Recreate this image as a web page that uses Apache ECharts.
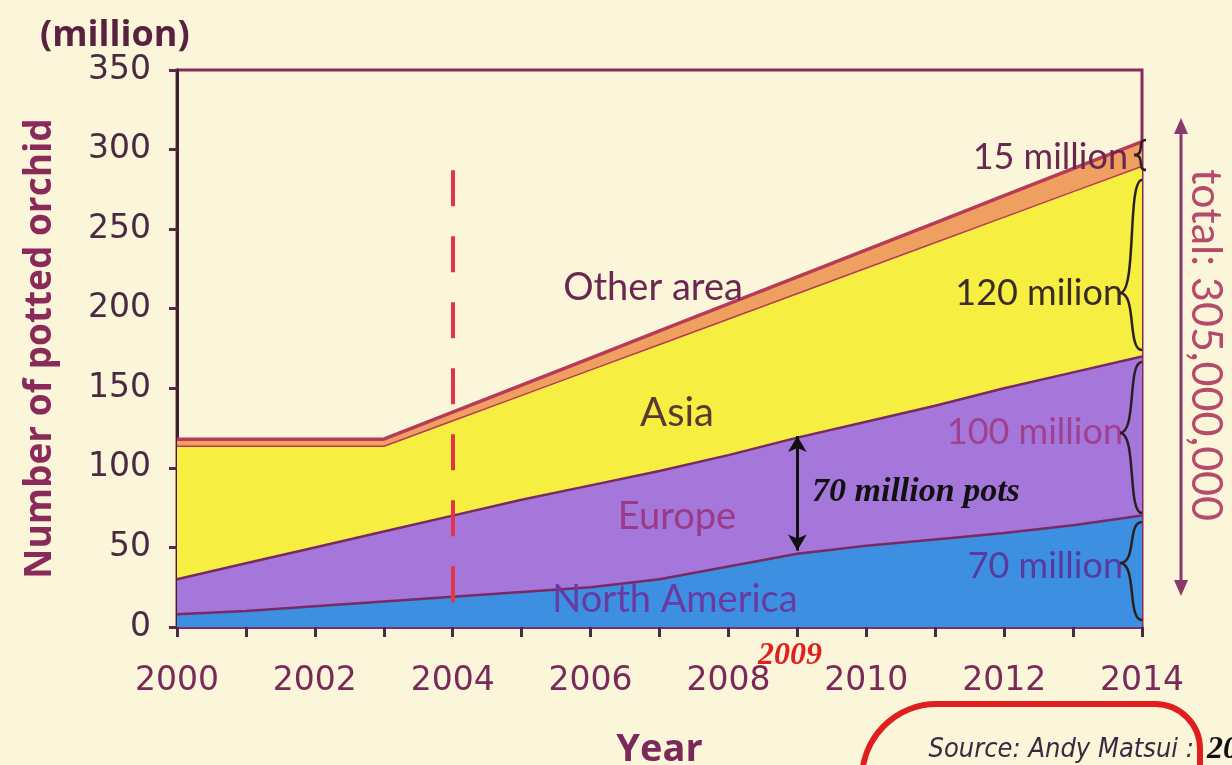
<!DOCTYPE html>
<html>
<head>
<meta charset="utf-8">
<script src="https://cdn.jsdelivr.net/npm/echarts@6/dist/echarts.min.js"></script>
<style>
html, body { margin: 0; padding: 0; background: #fbf5da; }
#chart { width: 1232px; height: 765px; }
</style>
</head>
<body>
<div id="chart"></div>
<script>
// values (million pots)
const years = ['2000', '2001', '2002', '2003', '2004', '2005', '2006', '2007', '2008', '2009', '2010', '2011', '2012', '2013', '2014'];
const northAmerica = [8, 10, 13, 16, 19, 22, 25, 30, 38, 46, 51, 55, 59, 64, 70];
const europe = [22, 30, 37, 44, 51, 58, 64, 68, 70, 73, 78, 84, 91, 96, 100];
const asia = [84, 74, 64, 54, 60, 66, 73, 80, 86, 91, 97, 103, 108, 114, 120];
const otherArea = [4, 4, 4, 4, 5, 6, 7, 8, 9, 10, 11, 12, 13, 14, 15];
const xLabelYears = ['2000', '2002', '2004', '2006', '2008', '2010', '2012', '2014'];
const markYear = '2004';
const arrowYear = '2009';
const arrowRange = [48, 120];

const chart = echarts.init(document.getElementById('chart'));

// curly brace pointing left, drawn as two bezier halves
function brace(x, y1, ym, y2, w) {
  const m = x - w / 2, t = x - w;
  const st = { stroke: '#2a2020', lineWidth: 2.5, fill: 'none' };
  return [
    { type: 'bezierCurve', silent: true, z: 100, shape: { x1: x, y1: y1, cpx1: m - 4, cpy1: y1, cpx2: m + 6, cpy2: ym, x2: t, y2: ym }, style: st },
    { type: 'bezierCurve', silent: true, z: 100, shape: { x1: t, y1: ym, cpx1: m + 6, cpy1: ym, cpx2: m - 4, cpy2: y2, x2: x, y2: y2 }, style: st }
  ];
}

function txt(text, x, y, size, color, extra) {
  return {
    type: 'text', silent: true, z: 100,
    style: Object.assign({
      text: text, x: x, y: y, fill: color,
      fontSize: size, fontFamily: 'Lato', align: 'center', verticalAlign: 'middle'
    }, extra || {})
  };
}

const lineCol = '#7a2a62';
const redLine = '#b83a58';

const option = {
  backgroundColor: '#fbf5da',
  animation: false,
  grid: {
    left: 177, right: 90, top: 70, bottom: 138, outerBoundsMode: 'none',
    show: true, borderColor: '#8a2a5a', borderWidth: 3, backgroundColor: 'transparent'
  },
  xAxis: {
    type: 'category', data: years, boundaryGap: false,
    name: 'Year', nameLocation: 'middle', nameGap: 104,
    nameTextStyle: { fontFamily: 'Open Sans', fontWeight: 'bold', fontSize: 38, color: '#7a2a5a' },
    axisLine: { lineStyle: { color: '#7a3070', width: 3 } },
    axisTick: { interval: 0, length: 10, lineStyle: { color: '#4a2a40', width: 3 } },
    axisLabel: {
      interval: 0, margin: 38, fontFamily: 'DejaVu Sans', fontSize: 33, color: '#7a2a5a',
      formatter: v => xLabelYears.includes(v) ? v : ''
    },
    splitLine: { show: false }
  },
  yAxis: {
    type: 'value', min: 0, max: 350, interval: 50,
    name: 'Number of potted orchid', nameLocation: 'middle', nameGap: 118, nameRotate: 90,
    nameTextStyle: { fontFamily: 'Open Sans', fontWeight: 'bold', fontSize: 37, color: '#8a2a5a' },
    axisLine: { show: true, lineStyle: { color: '#3a2030', width: 3 } },
    axisTick: { show: true, length: 8, lineStyle: { color: '#5a2a48', width: 3 } },
    axisLabel: { margin: 26, fontFamily: 'DejaVu Sans', fontSize: 33, color: '#4a2a40' },
    splitLine: { show: false }
  },
  series: [
    {
      name: 'North America', type: 'line', stack: 'all', data: northAmerica,
      showSymbol: false, lineStyle: { color: lineCol, width: 2.5 },
      areaStyle: { color: '#3d8fe2', opacity: 1 }, z: 2,
      markLine: {
        silent: true, symbol: 'none', label: { show: false }, z: 50,
        lineStyle: { color: '#e2354a', width: 4, type: [36, 30] },
        data: [[{ coord: [markYear, 287] }, { coord: [markYear, 0] }]]
      }
    },
    {
      name: 'Europe', type: 'line', stack: 'all', data: europe,
      showSymbol: false, lineStyle: { color: lineCol, width: 2.5 },
      areaStyle: { color: '#a577da', opacity: 1 }, z: 2
    },
    {
      name: 'Asia', type: 'line', stack: 'all', data: asia,
      showSymbol: false, lineStyle: { color: redLine, width: 3 },
      areaStyle: { color: '#f6ee40', opacity: 1 }, z: 2
    },
    {
      name: 'Other area', type: 'line', stack: 'all', data: otherArea,
      showSymbol: false, lineStyle: { color: redLine, width: 3.5 },
      areaStyle: { color: '#efa060', opacity: 1 }, z: 3,
      markLine: {
        silent: true, symbol: ['arrow', 'arrow'], symbolSize: [14, 16], label: { show: false },
        lineStyle: { color: '#111', width: 3, type: 'solid' },
        data: [[{ coord: [arrowYear, arrowRange[0]] }, { coord: [arrowYear, arrowRange[1]] }]]
      }
    }
  ],
  graphic: [
    txt('(million)', 40, 36, 36, '#5a2040', { align: 'left', fontFamily: 'Open Sans', fontWeight: 'bold' }),
    txt('Other area', 653, 288, 38, '#6a2850'),
    txt('Asia', 677, 413, 40, '#5a3a30'),
    txt('Europe', 677, 517, 38, '#9a3a8a'),
    txt('North America', 675, 600, 38, '#6a3aa0'),
    txt('15 million', 1128, 157, 36, '#6a2850', { align: 'right' }),
    txt('120 milion', 1123, 293, 36, '#3a2a28', { align: 'right' }),
    txt('100 million', 1123, 432, 36, '#a04090', { align: 'right' }),
    txt('70 million', 1123, 566, 36, '#5a3aa0', { align: 'right' }),
    txt('70 million pots', 812, 492, 34, '#111', { align: 'left', fontFamily: 'Liberation Serif', fontStyle: 'italic', fontWeight: 'bold' }),
    txt('2009', 790, 656, 32, '#e02020', { fontFamily: 'Liberation Serif', fontStyle: 'italic', fontWeight: 'bold' }),
    ...brace(1146, 140, 155, 170, 12),
    ...brace(1142, 180, 293, 350, 22),
    ...brace(1142, 362, 433, 513, 22),
    ...brace(1142, 522, 563, 620, 22),
    // total arrow
    { type: 'line', silent: true, shape: { x1: 1181, y1: 124, x2: 1181, y2: 590 }, style: { stroke: '#8a3a6a', lineWidth: 3 } },
    { type: 'polygon', silent: true, shape: { points: [[1181, 118], [1174, 134], [1188, 134]] }, style: { fill: '#8a3a6a' } },
    { type: 'polygon', silent: true, shape: { points: [[1181, 596], [1174, 580], [1188, 580]] }, style: { fill: '#8a3a6a' } },
    {
      type: 'text', silent: true, x: 1206, y: 345, rotation: -Math.PI / 2,
      style: { text: 'total: 305,000,000', fill: '#b54a6a', fontSize: 43, fontFamily: 'Lato', align: 'center', verticalAlign: 'middle' }
    },
    // source note
    txt('Source: Andy Matsui :', 1194, 750, 27, '#3a2a40', { align: 'right', fontFamily: "'Liberation Sans Narrow', 'DejaVu Sans Condensed', Roboto, sans-serif", fontStyle: 'italic' }),
    {
      type: 'rect', silent: true, z: 100,
      shape: { x: 862, y: 704, width: 338, height: 120, r: [75, 45, 0, 0] },
      style: { stroke: '#e01e1e', lineWidth: 6, fill: 'none' }
    },
    txt('20', 1207, 750, 32, '#111', { align: 'left', fontFamily: 'Liberation Serif', fontStyle: 'italic', fontWeight: 'bold' })
  ]
};

chart.setOption(option);
</script>
</body>
</html>
